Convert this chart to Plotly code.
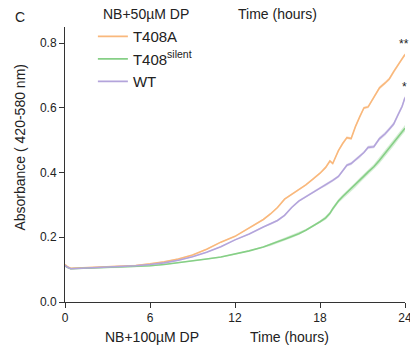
import plotly.graph_objects as go

# ---- data ----
time_h = [0, 0.15, 0.4, 1, 2, 3, 4, 5, 6, 7, 8, 9, 10, 11, 12, 13, 14,
          14.5, 15, 15.5, 16, 16.5, 17, 17.5, 18,
          18.4, 18.7, 18.9, 19.3, 19.6, 19.9,
          20.2, 20.5, 20.8, 21.1, 21.4, 21.8,
          22.2, 22.6, 22.9, 23.2, 23.5, 23.8, 24]

t408a = [0.116, 0.110, 0.104,
         0.105, 0.106, 0.108, 0.110, 0.113, 0.118, 0.124, 0.133, 0.145, 0.163, 0.185, 0.203, 0.228, 0.255,
         0.272, 0.292, 0.318, 0.333, 0.348, 0.362, 0.380, 0.398,
         0.416, 0.436, 0.428, 0.468, 0.490, 0.508,
         0.505, 0.542, 0.572, 0.600, 0.603, 0.632,
         0.662, 0.677, 0.690, 0.712, 0.732, 0.755, 0.765]

t408_silent = [0.112, 0.107, 0.103,
               0.104, 0.105, 0.106, 0.107, 0.109, 0.112, 0.116, 0.121, 0.127, 0.133, 0.139, 0.148, 0.158, 0.170,
               0.177, 0.186, 0.194, 0.202, 0.211, 0.222, 0.234, 0.248,
               0.260, 0.274, 0.288, 0.312, 0.326, 0.338,
               0.350, 0.362, 0.376, 0.389, 0.402, 0.418,
               0.438, 0.460, 0.475, 0.492, 0.510, 0.527, 0.537]

wt = [0.113, 0.108, 0.103,
      0.104, 0.105, 0.107, 0.109, 0.112, 0.116, 0.121, 0.129, 0.140, 0.154, 0.171, 0.192, 0.210, 0.232,
      0.241, 0.252, 0.268, 0.292, 0.312, 0.325, 0.338, 0.352,
      0.362, 0.370, 0.376, 0.388, 0.405, 0.423,
      0.428, 0.440, 0.449, 0.462, 0.478, 0.480,
      0.505, 0.520, 0.535, 0.550, 0.578, 0.605, 0.632]

# band half-widths (error shading)
t408a_sd = [0.002] * 17 + [0.003] * 8 + [0.004] * 6 + [0.004] * 6 + [0.005] * 7
t408_silent_sd = [0.002] * 17 + [0.004] * 8 + [0.006] * 6 + [0.008] * 6 + [0.010] * 7
wt_sd = [0.002] * 17 + [0.003] * 8 + [0.004] * 6 + [0.005] * 6 + [0.006] * 7

series = [
    ("T408A", t408a, t408a_sd, "#F9B87C", "rgba(249,184,124,0.35)"),
    ("T408<sup>silent</sup>", t408_silent, t408_silent_sd, "#86CF86", "rgba(134,207,134,0.35)"),
    ("WT", wt, wt_sd, "#B3A4DB", "rgba(179,164,219,0.35)"),
]

x_ticks = [0, 6, 12, 18, 24]
y_ticks = [0.0, 0.2, 0.4, 0.6, 0.8]
y_tick_labels = ["0.0", "0.2", "0.4", "0.6", "0.8"]

FONT = "Arial, 'Liberation Sans', sans-serif"
TXT = "#222222"

fig = go.Figure()
for name, vals, sd, col, fill in series:
    upper = [v + s for v, s in zip(vals, sd)]
    lower = [v - s for v, s in zip(vals, sd)]
    fig.add_trace(go.Scatter(x=time_h + time_h[::-1], y=upper + lower[::-1],
                             fill="toself", fillcolor=fill, line=dict(width=0),
                             hoverinfo="skip", showlegend=False))
for name, vals, sd, col, fill in series:
    fig.add_trace(go.Scatter(x=time_h, y=vals, mode="lines", name=name,
                             line=dict(color=col, width=1.6)))

# significance stars
fig.add_annotation(x=time_h[-1], y=t408a[-1], text="**", showarrow=False,
                   xanchor="right", yanchor="bottom", xshift=6, yshift=2,
                   font=dict(family=FONT, size=12, color=TXT))
fig.add_annotation(x=time_h[-1], y=wt[-1], text="*", showarrow=False,
                   xanchor="right", yanchor="bottom", xshift=4, yshift=2,
                   font=dict(family=FONT, size=12, color=TXT))

# header / footer texts
def note(text, x, y, size=14, angle=0):
    fig.add_annotation(text=text, x=x, y=y, xref="paper", yref="paper",
                       xanchor="center", yanchor="middle", showarrow=False,
                       textangle=angle, font=dict(family=FONT, size=size, color=TXT))

note("C", -0.132, 1.036, size=14)
note("NB+50µM DP", 0.238, 1.047)
note("Time (hours)", 0.624, 1.047)
note("NB+100µM DP", 0.256, -0.127)
note("Time (hours)", 0.659, -0.127)
note("Absorbance ( 420-580 nm)", -0.132, 0.562, size=14, angle=-90)

fig.update_layout(
    width=410, height=346,
    margin=dict(l=65, r=5, t=27, b=44, autoexpand=False),
    paper_bgcolor="white", plot_bgcolor="white",
    font=dict(family=FONT, color=TXT),
    showlegend=True,
    legend=dict(x=0.082, y=1.025, xanchor="left", yanchor="top",
                bgcolor="rgba(0,0,0,0)", font=dict(family=FONT, size=15, color=TXT),
                itemwidth=30, tracegroupgap=0),
    xaxis=dict(range=[0, 24], tickvals=x_ticks, ticktext=[str(v) for v in x_ticks],
               showgrid=False, zeroline=False, showline=True, linecolor="#333333",
               linewidth=1, ticks="outside", ticklen=5, tickcolor="#333333",
               ticklabeloverflow="allow", automargin=False,
               tickfont=dict(family=FONT, size=12, color=TXT)),
    yaxis=dict(range=[0, 0.85], tickvals=y_ticks, ticktext=y_tick_labels,
               showgrid=False, zeroline=False, showline=True, linecolor="#333333",
               linewidth=1, ticks="outside", ticklen=5, tickcolor="#333333",
               automargin=False,
               tickfont=dict(family=FONT, size=12, color=TXT)),
)

fig.write_html("out.html")
